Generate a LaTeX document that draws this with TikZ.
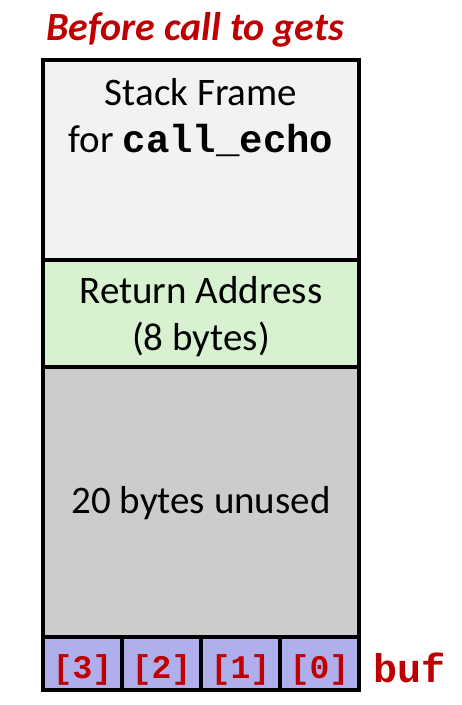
\documentclass[tikz,border=0pt]{standalone}
\usepackage{fontspec}
\setmainfont{Carlito}
\newfontfamily\monofont{Liberation Mono}
\usepackage{xcolor}
\definecolor{darkred}{HTML}{C00000}
\definecolor{framegray}{HTML}{F2F2F2}
\definecolor{retgreen}{HTML}{D8F1D0}
\definecolor{unusedgray}{HTML}{CCCCCC}
\definecolor{bufblue}{HTML}{AFAFEB}
\newcommand{\code}[1]{{\monofont\bfseries #1}}

\tikzset{
  region/.style={draw=black, line width=4pt, minimum width=316pt, inner sep=0pt},
  cell/.style={draw=black, line width=4pt, minimum width=79pt, minimum height=53pt, inner sep=0pt,
    fill=bufblue, text=darkred, font=\fontsize{33}{36}\selectfont\monofont\bfseries,
    text height=30pt, text depth=1pt},
  big/.style={font=\fontsize{39}{47}\selectfont, align=center, anchor=base}
}

\begin{document}
\begin{tikzpicture}[x=1pt,y=-1pt]
        %\draw[gray] (0,0) grid (462,705);
        \useasboundingbox (0,0) rectangle (462,705);

        \node[font=\fontsize{40}{48}\selectfont\bfseries\itshape, text=darkred, anchor=base] (title) at (195,40) {Before call to gets};

        \node[region, fill=framegray, minimum height=200pt] (frame) at (201,160) {};
        \node[big] (framelbl) at (201,152) {Stack Frame\\for \code{call\_echo}};

        \node[region, fill=retgreen, minimum height=107pt] (ret) at (201,313.5) {};
        \node[big] (retlbl) at (201,350) {Return Address\\(8 bytes)};

        \node[region, fill=unusedgray, minimum height=270pt] (unused) at (201,502) {};
        \node[big] (unusedlbl) at (201,513) {20 bytes unused};

        \node[cell] (b3) at (82.5,663.5) {[3]};
        \node[cell] (b2) at (161.5,663.5) {[2]};
        \node[cell] (b1) at (240.5,663.5) {[1]};
        \node[cell] (b0) at (319.5,663.5) {[0]};

        \node[anchor=base west, text=darkred, font=\fontsize{40}{48}\selectfont\monofont\bfseries] (buf) at (370,682) {buf};
\end{tikzpicture}
\end{document}
